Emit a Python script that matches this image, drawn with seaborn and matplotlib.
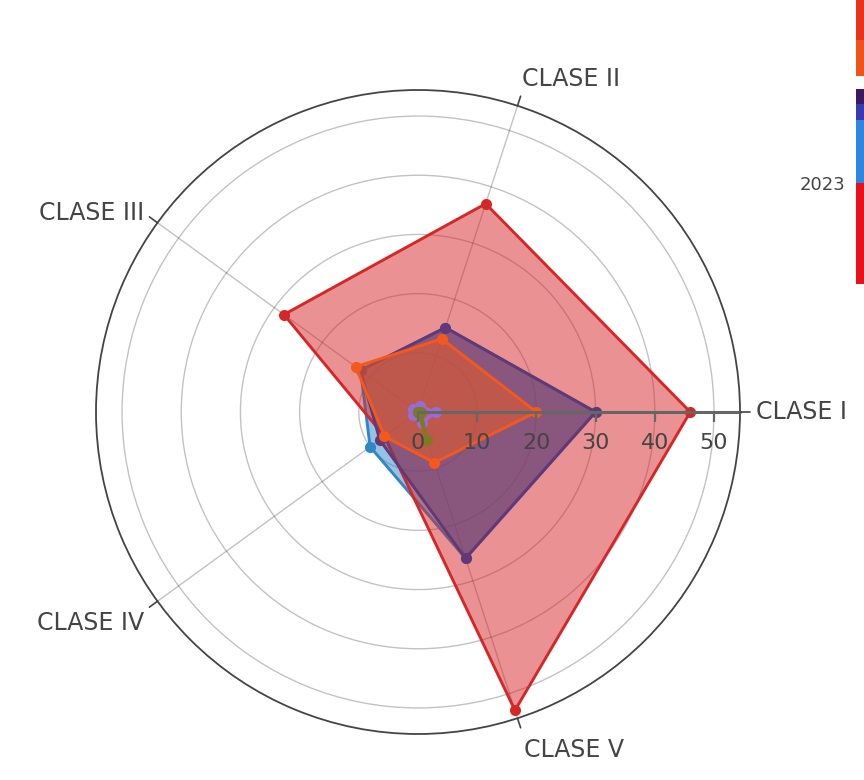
import numpy as np
import pandas as pd
import matplotlib
matplotlib.use("Agg")
import matplotlib.pyplot as plt
import seaborn as sns
from matplotlib.patches import Rectangle
from matplotlib.markers import TICKDOWN

# ---- data ----
categories = ["CLASE I", "CLASE II", "CLASE III", "CLASE IV", "CLASE V"]
serie_azul = [30, 15, 12, 10, 26]
serie_roja = [46, 37, 28, 7, 53]
serie_morada = [30, 15, 12, 8, 26]
serie_naranja = [20, 13, 13, 7, 9]
serie_lila = [3, 1, 1, 1, 2]
serie_oliva = [0.5, 0, 0, 0, 5]
radial_ticks = [0, 10, 20, 30, 40, 50]
legend_label = "2023"

series = [
    ("azul", serie_azul, "#2f86c8"),
    ("roja", serie_roja, "#d62728"),
    ("morada", serie_morada, "#5e3a78"),
    ("naranja", serie_naranja, "#f4581c"),
    ("lila", serie_lila, "#9a6bd8"),
    ("oliva", serie_oliva, "#7d7a1f"),
]

sns.set_theme(style="white")
plt.rcParams["font.family"] = ["DejaVu Sans"]

W, H = 864, 780
fig = plt.figure(figsize=(W / 100, H / 100), dpi=100)
cx, cy, R = 418, 412, 322
ax = fig.add_axes([(cx - R) / W, (H - cy - R) / H, 2 * R / W, 2 * R / H], projection="polar")
rmax = 54.4
angles_deg = np.arange(len(categories)) * 360 / len(categories)
theta = np.deg2rad(angles_deg)

ax.set_ylim(0, rmax)
ax.set_thetagrids(angles_deg, labels=[""] * len(categories))
ax.set_yticks(radial_ticks[1:])
ax.set_yticklabels([])
ax.grid(True, color="black", alpha=0.24, linewidth=1.0, zorder=30)
ax.spines["polar"].set_color("#444444")
ax.spines["polar"].set_linewidth(1.3)
ax.set_facecolor("white")

# each trace: fill, line, markers (in trace order, like plotly)
for i, (name, vals, col) in enumerate(series):
    z = 2 + 3 * i
    th = np.append(theta, theta[0])
    rr = np.append(vals, vals[0])
    ax.fill(th, rr, color=col, alpha=0.5, linewidth=0, zorder=z)
    df = pd.DataFrame({"theta": th, "r": rr})
    sns.lineplot(data=df, x="theta", y="r", sort=False, estimator=None, ax=ax,
                 color=col, linewidth=2.1, zorder=z + 1)
    ax.plot(theta, vals, "o", color=col, markersize=8, markeredgewidth=0, zorder=z + 2)

for gl in ax.xaxis.get_gridlines() + ax.yaxis.get_gridlines():
    gl.set_zorder(30)

ax.set_xlabel("")
ax.set_ylabel("")

# radial axis line with ticks and labels
ax.plot([0, 0], [0, rmax], color="#666666", linewidth=2.2, zorder=40, clip_on=False)
ax.plot([0] * len(radial_ticks), radial_ticks, linestyle="none", marker=TICKDOWN,
        markersize=7, markeredgewidth=1.6, color="#666666", zorder=40)
for t in radial_ticks:
    ax.annotate(str(t), xy=(0, t), xytext=(0, -15), textcoords="offset points",
                ha="center", va="top", fontsize=16, color="#444444", zorder=41)

# angular ticks outside and labels
tick_len = 10 / (R / rmax)
aligns = [("left", "center"), ("left", "bottom"), ("right", "center"),
          ("right", "top"), ("left", "top")]
offsets = [16, 16, 16, 17, 21]
for th, lab, (ha, va), o in zip(theta, categories, aligns, offsets):
    ax.plot([th, th], [rmax, rmax + tick_len], color="#444444", linewidth=1.2,
            clip_on=False, zorder=40)
    off = o * 0.72
    ax.annotate(lab, xy=(th, rmax), xytext=(off * np.cos(th), off * np.sin(th)),
                textcoords="offset points", ha=ha, va=va, fontsize=17,
                color="#444444", annotation_clip=False)

# cropped legend strips at right edge
def strip(y0, y1, color):
    fig.add_artist(Rectangle((856 / W, 1 - y1 / H), 12 / W, (y1 - y0) / H,
                             transform=fig.transFigure, color=color, linewidth=0))

strip(0, 40, "#e8321a")
strip(40, 76, "#f0521c")
strip(89, 104, "#3c1a60")
strip(104, 120, "#3a3ab0")
strip(120, 183, "#2f86e0")
strip(183, 284, "#e8101a")
fig.text(800 / W, 1 - 185 / H, legend_label, fontsize=13, color="#444444",
         ha="left", va="center")

fig.savefig("out.png", dpi=100, facecolor="white")
